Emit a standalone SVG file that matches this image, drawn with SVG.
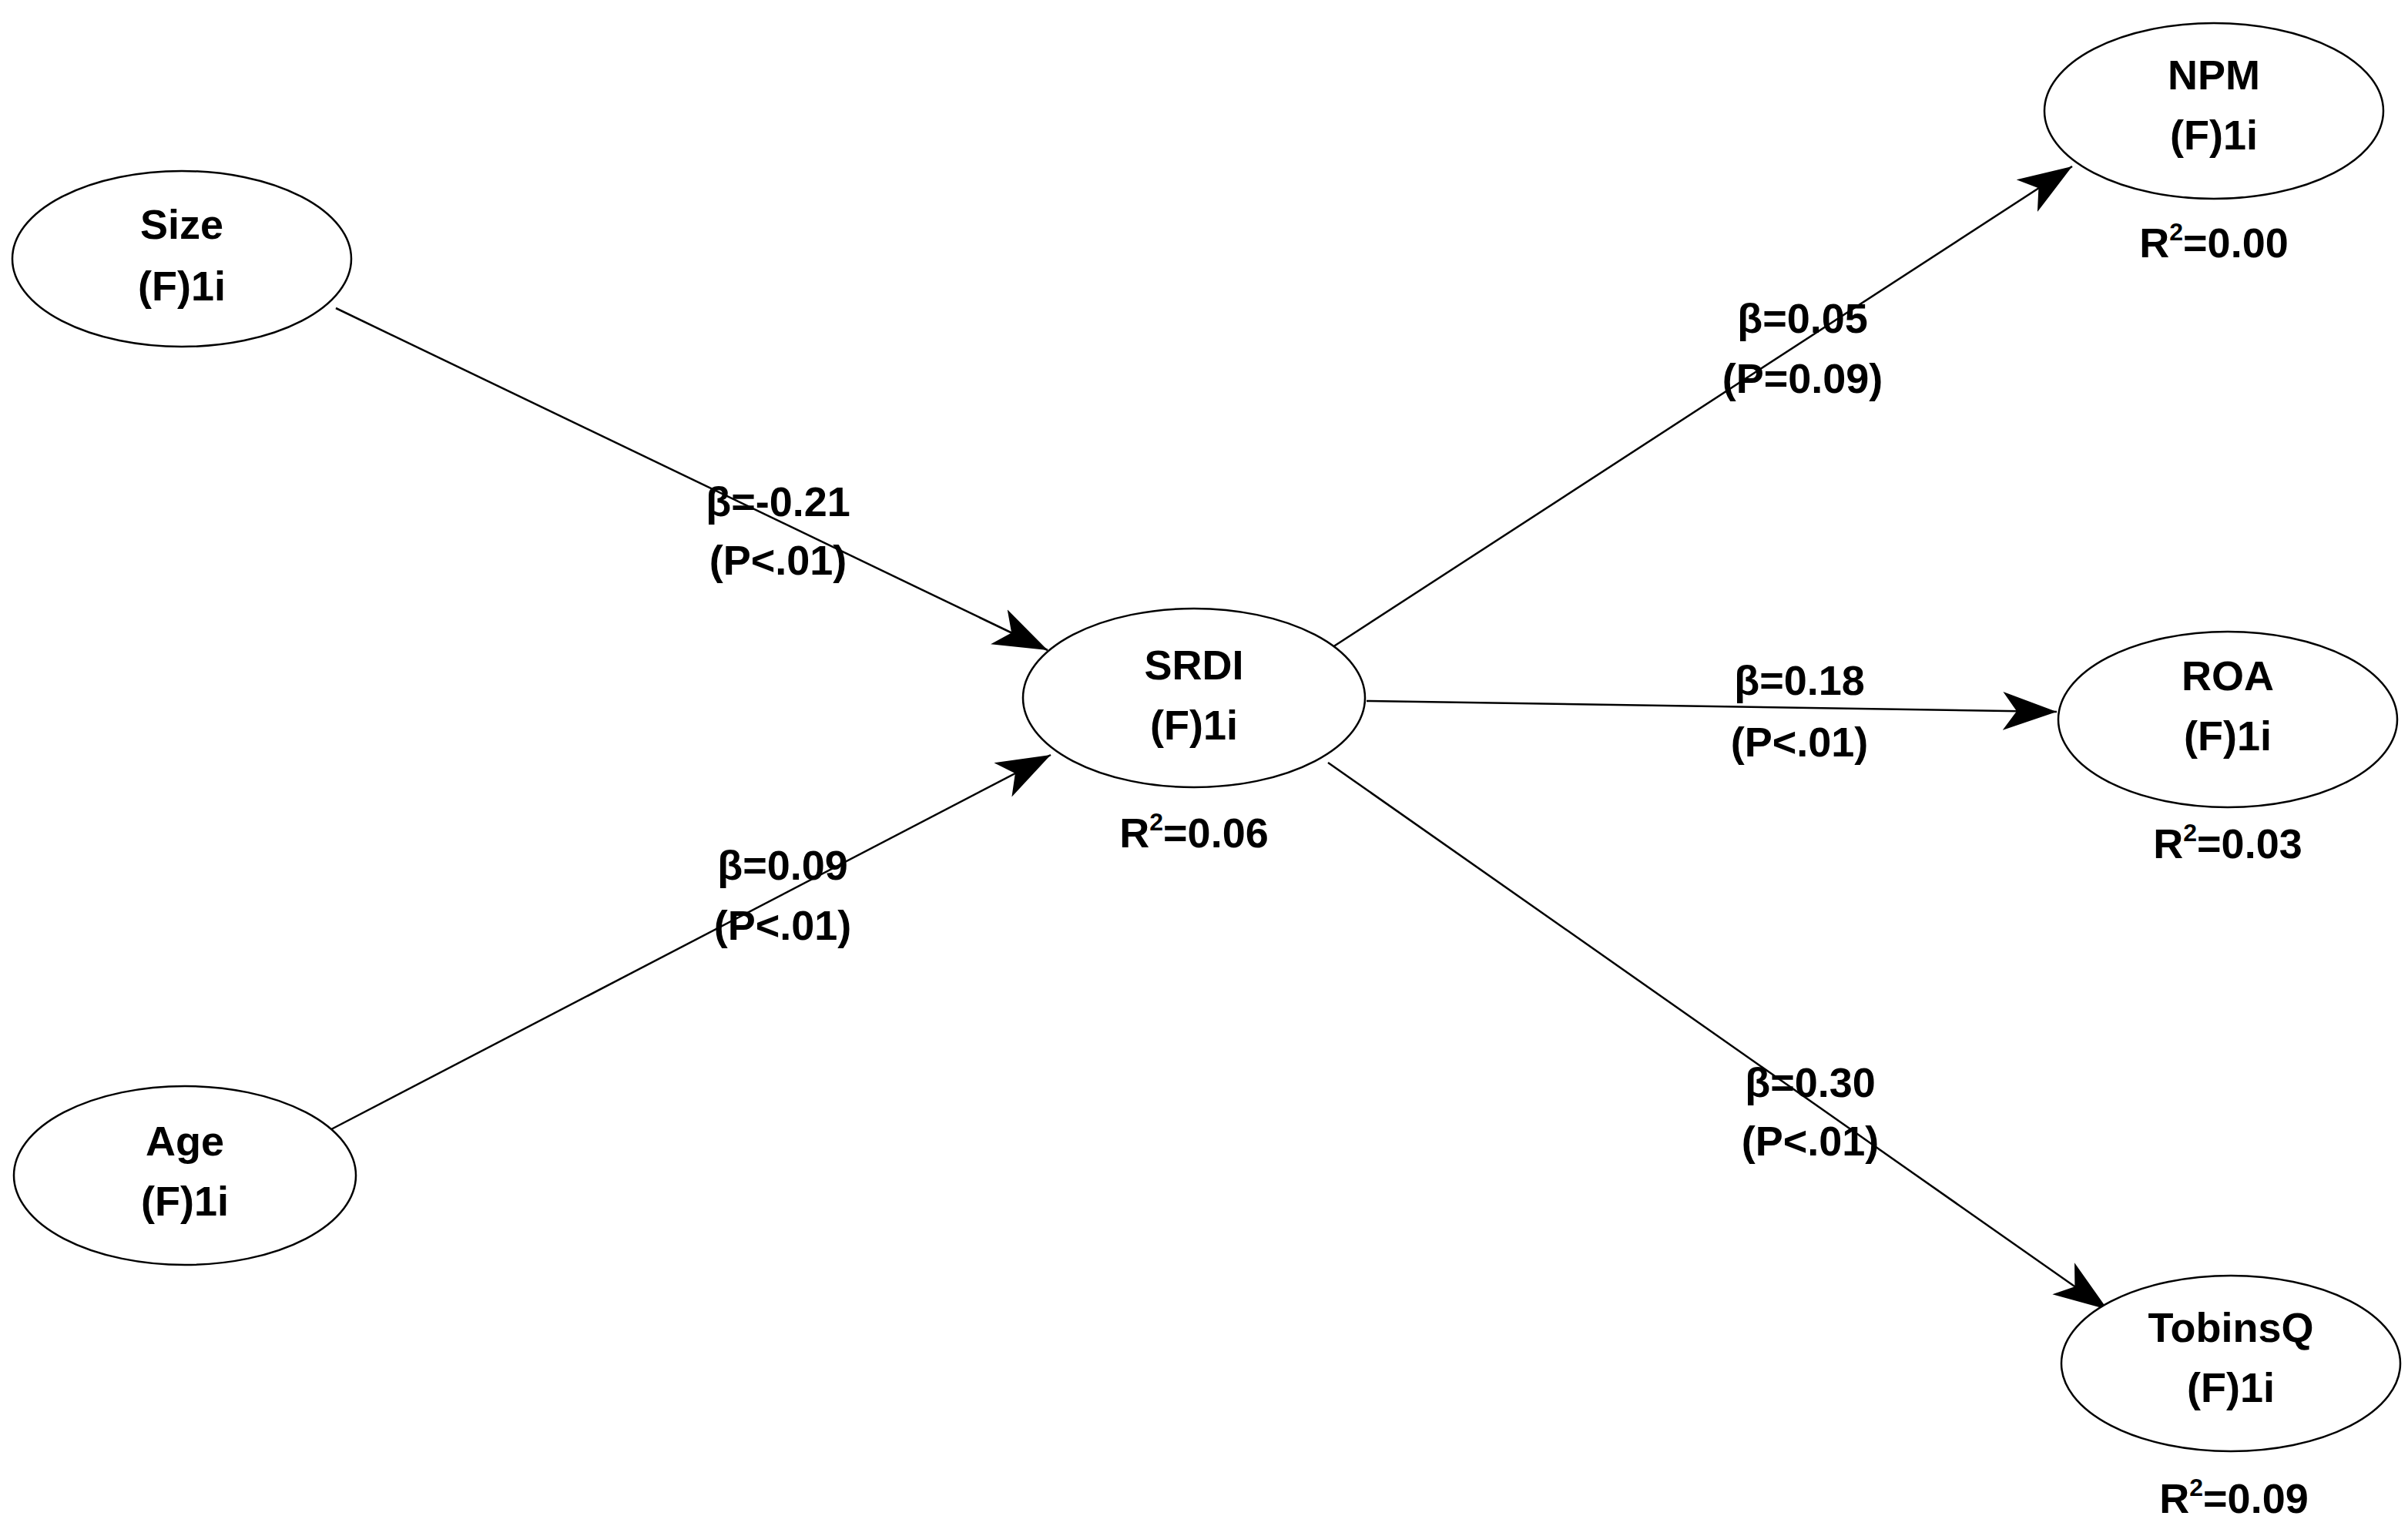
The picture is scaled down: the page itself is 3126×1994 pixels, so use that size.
<svg xmlns="http://www.w3.org/2000/svg" width="3126" height="1994" viewBox="0 0 3126 1994">
<style>
.n{fill:#fff;stroke:#000;stroke-width:2.5}
.t{font-family:"Liberation Sans",Arial,sans-serif;font-weight:bold;font-size:54px;text-anchor:middle;fill:#000}
.c{stroke:#000;stroke-width:2.5;fill:none;marker-end:url(#a)}
</style>
<defs>
<marker id="a" markerUnits="userSpaceOnUse" markerWidth="80" markerHeight="60" refX="70" refY="25" orient="auto" viewBox="0 0 80 50">
<path d="M0,0 L70,25 L0,50 L18,25 Z" fill="#000"/>
</marker>
</defs>
<rect width="3126" height="1994" fill="#fff"/>
<g id="connectors">
<line class="c" x1="436" y1="400" x2="1360" y2="844"/>
<line class="c" x1="430" y1="1466" x2="1364" y2="980"/>
<line class="c" x1="1730" y1="840" x2="2690" y2="216"/>
<line class="c" x1="1774" y1="910" x2="2670" y2="924"/>
<line class="c" x1="1724" y1="990" x2="2736" y2="1700"/>
<text class="t" x="1010" y="670">β=-0.21</text>
<text class="t" x="1010" y="746">(P&lt;.01)</text>
<text class="t" x="1016" y="1142">β=0.09</text>
<text class="t" x="1016" y="1220">(P&lt;.01)</text>
<text class="t" x="2340" y="432">β=0.05</text>
<text class="t" x="2340" y="510">(P=0.09)</text>
<text class="t" x="2336" y="902">β=0.18</text>
<text class="t" x="2336" y="982">(P&lt;.01)</text>
<text class="t" x="2350" y="1424">β=0.30</text>
<text class="t" x="2350" y="1500">(P&lt;.01)</text>
</g>
<g id="size"><ellipse class="n" cx="236" cy="336" rx="220" ry="114"/><text class="t" x="236" y="310">Size</text><text class="t" x="236" y="390">(F)1i</text></g>
<g id="age"><ellipse class="n" cx="240" cy="1526" rx="222" ry="116"/><text class="t" x="240" y="1500">Age</text><text class="t" x="240" y="1578">(F)1i</text></g>
<g id="srdi"><ellipse class="n" cx="1550" cy="906" rx="222" ry="116"/><text class="t" x="1550" y="882">SRDI</text><text class="t" x="1550" y="960">(F)1i</text><text class="t" x="1550" y="1100">R<tspan font-size="32" dy="-22">2</tspan><tspan dy="22">=0.06</tspan></text></g>
<g id="npm"><ellipse class="n" cx="2874" cy="144" rx="220" ry="114"/><text class="t" x="2874" y="116">NPM</text><text class="t" x="2874" y="194">(F)1i</text><text class="t" x="2874" y="334">R<tspan font-size="32" dy="-22">2</tspan><tspan dy="22">=0.00</tspan></text></g>
<g id="roa"><ellipse class="n" cx="2892" cy="934" rx="220" ry="114"/><text class="t" x="2892" y="896">ROA</text><text class="t" x="2892" y="974">(F)1i</text><text class="t" x="2892" y="1114">R<tspan font-size="32" dy="-22">2</tspan><tspan dy="22">=0.03</tspan></text></g>
<g id="tobinsq"><ellipse class="n" cx="2896" cy="1770" rx="220" ry="114"/><text class="t" x="2896" y="1742">TobinsQ</text><text class="t" x="2896" y="1820">(F)1i</text><text class="t" x="2900" y="1964">R<tspan font-size="32" dy="-22">2</tspan><tspan dy="22">=0.09</tspan></text></g>
</svg>
